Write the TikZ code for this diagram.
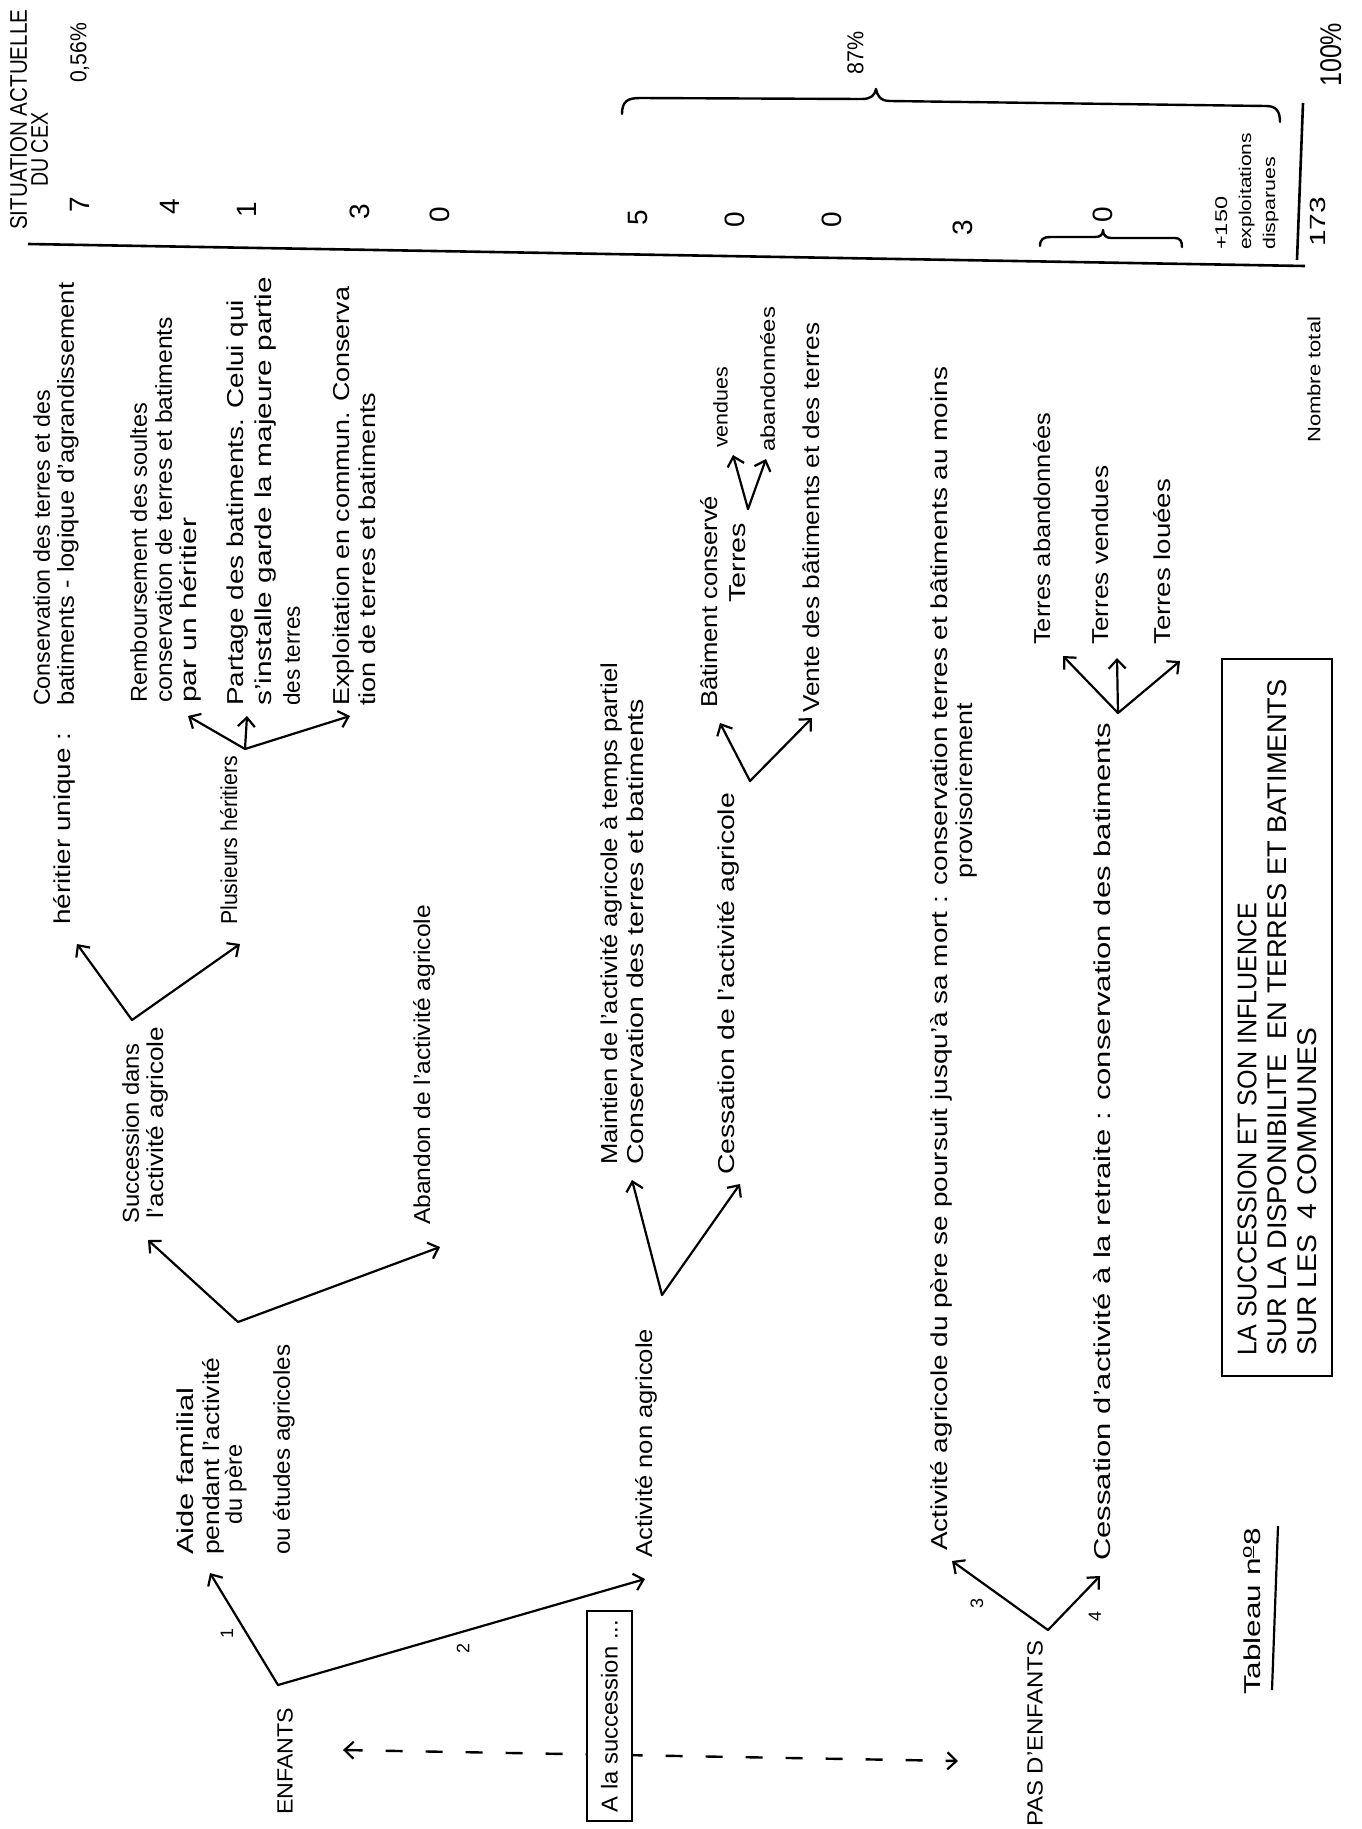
\documentclass[tikz,border=0pt]{standalone}
\usepackage{fontspec}
\setmainfont{Liberation Sans}
\usepackage{graphicx}
\usetikzlibrary{arrows.meta}
\newcommand\fitw[2]{\resizebox{#1pt}{\height}{#2}}
\tikzset{
  hw/.style={rotate=90, anchor=north west, inner sep=0pt, align=left, font=\fontsize{23}{26}\selectfont},
  num/.style={rotate=90, inner sep=0pt, font=\fontsize{28}{30}\selectfont},
  lbl/.style={rotate=90, inner sep=0pt, font=\fontsize{18}{20}\selectfont},
  barb/.tip={Straight Barb[length=9pt,width=17pt,line width=2.2pt]},
  arr/.style={line width=2.2pt, line cap=round, -barb},
  rule/.style={line width=2.6pt},
  bracepath/.style={line width=2.4pt, line cap=round, line join=round},
  dashline/.style={line width=2.4pt, dash pattern=on 17pt off 23pt, barb-barb},
  boxed/.style={draw, line width=2.4pt, fill=white, rotate=90, inner sep=0pt, align=left},
}
\begin{document}
\begin{tikzpicture}[x=1pt,y=-1pt]
\fill[white] (0,0) rectangle (1362,1829);
\useasboundingbox (0,0) rectangle (1362,1829);

% ---------- table (top) ----------
\node[hw, font=\fontsize{24}{21}\selectfont] (hdr) at (10,230) {\fitw{220}{SITUATION ACTUELLE}\\\hspace*{43pt}\fitw{74}{DU CEX}};
\node[hw] (p056) at (70,83) {\fitw{60}{0,56\%}};
\node[hw] (p87) at (847,75) {\fitw{43}{87\%}};
\node[hw, font=\fontsize{30}{30}\selectfont] (p100) at (1320,87) {\fitw{64}{100\%}};

\node[num] (n1) at (80,205) {7};
\node[num] (n2) at (170,207) {4};
\node[num] (n3) at (247,210) {1};
\node[num] (n4) at (360,212) {3};
\node[num] (n5) at (440,215) {0};
\node[num] (n6) at (638,218) {5};
\node[num] (n7) at (735,220) {0};
\node[num] (n8) at (832,220) {0};
\node[num] (n9) at (963,228) {3};
\node[num] (n10) at (1103,215) {0};

\coordinate (ruleA) at (28,244);
\coordinate (ruleB) at (1305,266);
\draw[rule] (ruleA) -- (ruleB);
\coordinate (totA) at (1303,103);
\coordinate (totB) at (1297,260);
\draw[rule] (totA) -- (totB);

\node[hw, font=\fontsize{22}{24}\selectfont] (tot) at (1310,247) {\fitw{50}{173}};
\node[hw, font=\fontsize{18}{20}\selectfont] (ntot) at (1307,443) {\fitw{126}{Nombre total}};
\node[hw, font=\fontsize{17}{24}\selectfont] (disp) at (1215,250) {\fitw{53}{+150}\\\fitw{117}{exploitations}\\\fitw{93}{disparues}};

\draw[bracepath] (622,114) .. controls (622,101) and (628,98) .. (640,98) -- (862,99) .. controls (871,99) and (875,95) .. (876,89) .. controls (877,95) and (880,101) .. (890,101) -- (1266,106) .. controls (1276,106) and (1280,111) .. (1280,122);
\draw[bracepath] (1040,246) .. controls (1040,239) and (1044,237) .. (1050,237) -- (1095,237) .. controls (1100,237) and (1103,235) .. (1103,230) .. controls (1103,235) and (1106,238) .. (1111,238) -- (1175,238) .. controls (1180,238) and (1182,241) .. (1182,247);

% ---------- title box ----------
\node[boxed, minimum width=717pt, minimum height=110pt, font=\fontsize{27}{30}\selectfont] (title) at (1277,1017.5)
  {\fitw{453}{LA SUCCESSION ET SON INFLUENCE}\\\fitw{676}{SUR LA DISPONIBILITE\ \ EN TERRES ET BATIMENTS}\\\fitw{328}{SUR LES\ \ 4 COMMUNES}};

\node[hw] (tabn) at (1243,1695) {\fitw{167}{Tableau n\textsuperscript{\underline{o}}8}};
\coordinate (ulA) at (1272,1690);
\coordinate (ulB) at (1278,1526);
\draw[line width=2.2pt] (ulA) -- (ulB);

% ---------- roots ----------
\node[hw, font=\fontsize{22}{24}\selectfont] (enf) at (277,1815) {\fitw{107}{ENFANTS}};
\node[hw, font=\fontsize{22}{24}\selectfont] (penf) at (1027,1827) {\fitw{186}{PAS D'ENFANTS}};
\coordinate (dE) at (343,1750);
\coordinate (dP) at (958,1761);
\draw[dashline] (dE) -- (dP);
\node[boxed, minimum width=210pt, minimum height=45pt, font=\fontsize{23}{26}\selectfont] (alas) at (609.5,1716) {\fitw{192}{A la succession ...}};

% ---------- ENFANTS branch ----------
\coordinate (fE) at (278,1685);
\coordinate (tAide) at (210,1573);
\coordinate (tNon) at (645,1579);
\draw[arr] (fE) -- (tAide);
\draw[arr] (fE) -- (tNon);
\node[lbl] (l1) at (227,1633) {1};
\node[lbl] (l2) at (463,1648) {2};

\node[hw] (aide) at (177,1555) {\fitw{167}{Aide familial}\\\fitw{197}{pendant l'activité}\\[-4pt]\hspace*{30pt}\fitw{80}{du père}\\[22pt]\fitw{210}{ou études agricoles}};

\coordinate (fAide) at (238,1322);
\coordinate (tSucc) at (148,1240);
\coordinate (tAband) at (440,1247);
\draw[arr] (fAide) -- (tSucc);
\draw[arr] (fAide) -- (tAband);

\node[hw, font=\fontsize{23}{25}\selectfont] (succ) at (122,1224) {\fitw{180}{Succession dans}\\\hspace*{5pt}\fitw{192}{l'activité agricole}};
\node[hw] (aband) at (413,1225) {\fitw{320}{Abandon de l'activité agricole}};

\coordinate (fSucc) at (132,1020);
\coordinate (tUniq) at (77,944);
\coordinate (tPlus) at (240,944);
\draw[arr] (fSucc) -- (tUniq);
\draw[arr] (fSucc) -- (tPlus);

\node[hw] (uniq) at (53,925) {\fitw{192}{héritier unique :}};
\node[hw] (plus) at (220,925) {\fitw{169}{Plusieurs héritiers}};

\node[hw, font=\fontsize{23}{24}\selectfont] (cons) at (33,706) {\fitw{316}{Conservation des terres et des}\\\fitw{423}{batiments - logique d'agrandissement}};

\coordinate (fPlus) at (245,749);
\coordinate (tRemb) at (188,716);
\coordinate (tPart) at (247,716);
\coordinate (tExpl) at (350,716);
\draw[arr] (fPlus) -- (tRemb);
\draw[arr] (fPlus) -- (tPart);
\draw[arr] (fPlus) -- (tExpl);

\node[hw, font=\fontsize{23}{25}\selectfont] (remb) at (130,703) {\fitw{300}{Remboursement des soultes}\\\fitw{386}{conservation de terres et batiments}\\\fitw{185}{par un héritier}};
\node[hw, font=\fontsize{23}{28}\selectfont] (part) at (227,706) {\fitw{406}{Partage des batiments. Celui qui}\\\fitw{429}{s'installe garde la majeure partie}\\\fitw{100}{des terres}};
\node[hw, font=\fontsize{23}{26}\selectfont] (expl) at (333,706) {\fitw{419}{Exploitation en commun. Conserva}\\\fitw{313}{tion de terres et batiments}};

% ---------- non agricole ----------
\node[hw] (nonag) at (635,1558) {\fitw{229}{Activité non agricole}};
\coordinate (fNon) at (662,1295);
\coordinate (tMaint) at (632,1180);
\coordinate (tCess) at (740,1184);
\draw[arr] (fNon) -- (tMaint);
\draw[arr] (fNon) -- (tCess);

\node[hw, font=\fontsize{23}{26}\selectfont] (maint) at (600,1165) {\fitw{502}{Maintien de l'activité agricole à temps partiel}\\\fitw{466}{Conservation des terres et batiments}};
\node[hw] (cess) at (717,1175) {\fitw{382}{Cessation de l'activité agricole}};

\coordinate (fCess) at (750,781);
\coordinate (tBat) at (720,723);
\coordinate (tVente) at (812,718);
\draw[arr] (fCess) -- (tBat);
\draw[arr] (fCess) -- (tVente);

\node[hw, font=\fontsize{23}{28}\selectfont] (bat) at (700,708) {\fitw{212}{Bâtiment conservé}\\\hspace*{105pt}\fitw{80}{Terres}};
\coordinate (fTer) at (748,509);
\coordinate (tVend) at (733,455);
\coordinate (tAbd) at (766,459);
\draw[arr] (fTer) -- (tVend);
\draw[arr] (fTer) -- (tAbd);
\node[hw, font=\fontsize{20}{22}\selectfont] (vend) at (713,448) {\fitw{81}{vendues}};
\node[hw, font=\fontsize{20}{22}\selectfont] (abd) at (760,452) {\fitw{145}{abandonnées}};
\node[hw] (vente) at (803,713) {\fitw{390}{Vente des bâtiments et des terres}};

% ---------- PAS D'ENFANTS branch ----------
\coordinate (fPas) at (1048,1630);
\coordinate (tActp) at (952,1561);
\coordinate (tRet) at (1100,1576);
\draw[arr] (fPas) -- (tActp);
\draw[arr] (fPas) -- (tRet);
\node[lbl] (l3) at (977,1603) {3};
\node[lbl] (l4) at (1095,1616) {4};

\node[hw, font=\fontsize{23}{25}\selectfont] (actp) at (930,1551) {\fitw{1184}{Activité agricole du père se poursuit jusqu'à sa mort : conservation terres et bâtiments au moins}\\\hspace*{672pt}\fitw{176}{provisoirement}};
\node[hw] (cret) at (1093,1561) {\fitw{838}{Cessation d'activité à la retraite : conservation des batiments}};

\coordinate (fRet) at (1118,713);
\coordinate (tTab) at (1063,656);
\coordinate (tTven) at (1117,658);
\coordinate (tTlou) at (1180,661);
\draw[arr] (fRet) -- (tTab);
\draw[arr] (fRet) -- (tTven);
\draw[arr] (fRet) -- (tTlou);
\node[hw] (tab) at (1033,645) {\fitw{232}{Terres abandonnées}};
\node[hw] (tven) at (1092,645) {\fitw{179}{Terres vendues}};
\node[hw] (tlou) at (1153,645) {\fitw{166}{Terres louées}};
\end{tikzpicture}
\end{document}
